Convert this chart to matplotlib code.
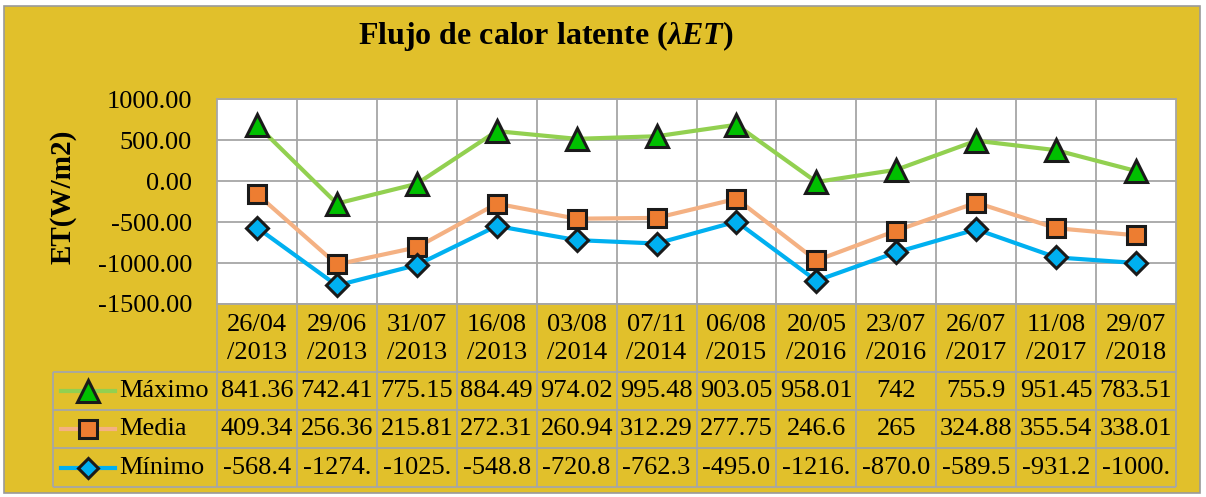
import numpy as np
import matplotlib
matplotlib.use("Agg")
import matplotlib.pyplot as plt
from matplotlib.patches import Rectangle
from matplotlib.lines import Line2D

plt.rcParams['font.family'] = ['Liberation Serif', 'DejaVu Serif']
plt.rcParams['mathtext.fontset'] = 'custom'
plt.rcParams['mathtext.it'] = 'Liberation Serif:italic:bold'
plt.rcParams['mathtext.rm'] = 'Liberation Serif:bold'

# data (table values; the chart is an Excel "stacked line" so points are cumulative)
fechas = ["26/04\n/2013", "29/06\n/2013", "31/07\n/2013", "16/08\n/2013", "03/08\n/2014",
          "07/11\n/2014", "06/08\n/2015", "20/05\n/2016", "23/07\n/2016", "26/07\n/2017",
          "11/08\n/2017", "29/07\n/2018"]
maximo = [841.36, 742.41, 775.15, 884.49, 974.02, 995.48, 903.05, 958.01, 742, 755.9, 951.45, 783.51]
media = [409.34, 256.36, 215.81, 272.31, 260.94, 312.29, 277.75, 246.6, 265, 324.88, 355.54, 338.01]
minimo = [-568.4, -1274.0, -1025.0, -548.8, -720.8, -762.3, -495.0, -1216.0, -870.0, -589.5, -931.2, -1000.0]
yticks = [-1500, -1000, -500, 0, 500, 1000]

# stacked series
s_min = np.array(minimo)
s_med = s_min + np.array(media)
s_max = s_med + np.array(maximo)

W, H = 1206, 497
fig = plt.figure(figsize=(W / 100, H / 100), dpi=100, facecolor='white')
fig.patches.append(Rectangle((4 / W, 4 / H), 1196 / W, 487 / H, transform=fig.transFigure,
                             facecolor='#E1C02B', edgecolor='#9a9a9a', lw=1.2, zorder=-5))

x0, x1, ytop, ybot = 217, 1176, 99, 304
ax = fig.add_axes([x0 / W, 1 - ybot / H, (x1 - x0) / W, (ybot - ytop) / H])
ax.set_facecolor('white')
grid_c = '#a6a6a6'
for sp in ax.spines.values():
    sp.set_color(grid_c)
    sp.set_linewidth(1.3)

fs = 19
n = len(fechas)
x = np.arange(n)
ax.set_xlim(-0.5, n - 0.5)
ax.set_ylim(-1500, 1000)
ax.set_yticks(yticks)
ax.set_yticklabels([f"{v:.2f}" for v in yticks], fontsize=fs)
ax.tick_params(axis='y', length=0, pad=18)
ax.set_xticks([])
ax.yaxis.grid(True, color=grid_c, lw=1.3)
ax.set_axisbelow(True)

series = [
    ("Máximo", s_max, '#92D050', '^', '#00C000', 16),
    ("Media", s_med, '#F4B183', 's', '#ED7D31', 13.5),
    ("Mínimo", s_min, '#00B0F0', 'D', '#00B0F0', 11),
]
for name, vals, lc, mk, fc, ms in series:
    ax.plot(x, vals, color=lc, lw=3, marker=mk, ms=ms, mfc=fc, mec='#1a1a1a', mew=2.2, zorder=3)

# data table under the plot
px = lambda p: -0.5 + (p - x0) / ((x1 - x0) / n)
fy = lambda p: (ybot - p) / (ybot - ytop)
tr = ax.get_xaxis_transform()
bounds = np.arange(n + 1) - 0.5
ax.vlines(bounds[1:-1], fy(ybot), 1, transform=tr, colors=grid_c, lw=1.3, zorder=1)
ax.vlines(bounds, fy(487), fy(ybot), transform=tr, colors=grid_c, lw=1.3, clip_on=False)
ax.vlines([px(53)], fy(487), fy(372), transform=tr, colors=grid_c, lw=1.3, clip_on=False)
ax.hlines([fy(372), fy(410), fy(448), fy(487)], px(53), n - 0.5, transform=tr,
          colors=grid_c, lw=1.3, clip_on=False)

for i, lab in enumerate(fechas):
    ax.text(i, fy(339), lab, transform=tr, ha='center', va='center', fontsize=fs,
            linespacing=1.3, clip_on=False)

rows_y = [391, 429, 467.5]
rows_txt = [
    [f"{v:g}" for v in maximo],
    [f"{v:g}" for v in media],
    [f"{v:.2f}"[:6] for v in minimo],
]
for (name, vals, lc, mk, fc, ms), ry, txts in zip(series, rows_y, rows_txt):
    for i, t in enumerate(txts):
        ax.text(i, fy(ry), t, transform=tr, ha='center', va='center', fontsize=fs, clip_on=False)
    ax.add_line(Line2D([px(61), px(115)], [fy(ry), fy(ry)], transform=tr, color=lc, lw=3, clip_on=False))
    ax.add_line(Line2D([px(88)], [fy(ry)], transform=tr, marker=mk, ms=ms * 0.95, mfc=fc,
                       mec='#1a1a1a', mew=2.2, clip_on=False))
    ax.text(px(119), fy(ry), name, transform=tr, ha='left', va='center', fontsize=fs, clip_on=False)

fig.text(63 / W, 1 - 197 / H, "ET(W/m2)", rotation=90, ha='center', va='center',
         fontsize=21, fontweight='bold')
fig.text(546 / W, 1 - 36 / H, r"Flujo de calor latente ($\lambda ET$)", ha='center', va='center',
         fontsize=23, fontweight='bold')

fig.savefig("out.png", dpi=100)
